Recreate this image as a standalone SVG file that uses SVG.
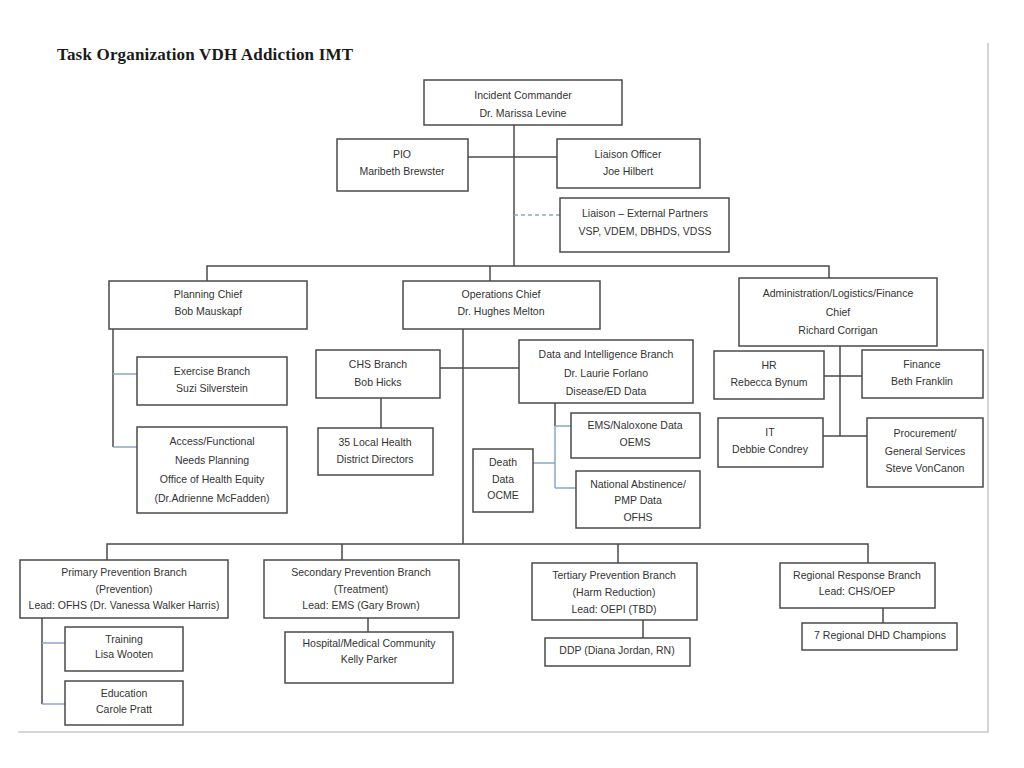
<svg xmlns="http://www.w3.org/2000/svg" width="1024" height="768" viewBox="0 0 1024 768">
<style>
.bg{fill:#ffffff}
.box{fill:#ffffff;stroke:#4a4a4a;stroke-width:1.5}
.t{font-family:"Liberation Sans",Arial,sans-serif;font-size:10.5px;fill:#333333;text-anchor:middle}
.title{font-family:"Liberation Serif","Times New Roman",serif;font-size:17px;font-weight:bold;fill:#1a1a1a}
.ln{stroke:#4a4a4a;stroke-width:1.5;fill:none}
.bl{stroke:#8aa6c8;stroke-width:1.5;fill:none}
.dash{stroke:#8aa6c8;stroke-width:1.3;fill:none;stroke-dasharray:4 3}
.frame{stroke:#c8c8c8;stroke-width:1.5;fill:none}
</style>
<rect class="bg" x="0" y="0" width="1024" height="768"/>
<text class="title" x="57" y="60" textLength="296">Task Organization VDH Addiction IMT</text>
<g id="frame"><path class="frame" d="M988,43 V732 H18"/></g>
<g id="connectors">
<path class="ln" d="M514,125 V266"/>
<path class="ln" d="M468,157 H557"/>
<path class="dash" d="M514,215 H560"/>
<path class="ln" d="M207,281 V266 H829 V278"/>
<path class="ln" d="M490,266 V281"/>
<path class="ln" d="M113,329 V447"/>
<path class="bl" d="M113,374 H137 M113,447 H137"/>
<path class="ln" d="M463,329 V544"/>
<path class="ln" d="M440,368 H519"/>
<path class="ln" d="M381,398 V428"/>
<path class="ln" d="M555,403 V426"/>
<path class="bl" d="M555,426 V488 M555,426 H571 M533,463 H555 M555,488 H576"/>
<path class="ln" d="M840,346 V436 M824,376 H862 M823,436 H867"/>
<path class="ln" d="M107,560 V544 H868 V563 M342,544 V560 M618,544 V563"/>
<path class="ln" d="M42,618 V704"/>
<path class="bl" d="M42,643 H65 M42,704 H65"/>
<path class="ln" d="M368,618 V632"/>
<path class="ln" d="M643,620 V638"/>
<path class="ln" d="M883,608 V623"/>
</g>
<g id="incident-commander"><rect class="box" x="424" y="80" width="198" height="45"/><text class="t" x="523" y="99">Incident Commander</text><text class="t" x="523" y="117">Dr. Marissa Levine</text></g>
<g id="pio"><rect class="box" x="337" y="139" width="131" height="52"/><text class="t" x="402" y="158">PIO</text><text class="t" x="402" y="175">Maribeth Brewster</text></g>
<g id="liaison-officer"><rect class="box" x="557" y="139" width="143" height="49"/><text class="t" x="628" y="158">Liaison Officer</text><text class="t" x="628" y="175">Joe Hilbert</text></g>
<g id="liaison-external"><rect class="box" x="560" y="198" width="169" height="54"/><text class="t" x="645" y="217">Liaison – External Partners</text><text class="t" x="645" y="235">VSP, VDEM, DBHDS, VDSS</text></g>
<g id="planning-chief"><rect class="box" x="109" y="281" width="198" height="48"/><text class="t" x="208" y="298">Planning Chief</text><text class="t" x="208" y="315">Bob Mauskapf</text></g>
<g id="operations-chief"><rect class="box" x="403" y="281" width="197" height="48"/><text class="t" x="501" y="298">Operations Chief</text><text class="t" x="501" y="315">Dr. Hughes Melton</text></g>
<g id="admin-chief"><rect class="box" x="739" y="278" width="198" height="68"/><text class="t" x="838" y="297">Administration/Logistics/Finance</text><text class="t" x="838" y="316">Chief</text><text class="t" x="838" y="334">Richard Corrigan</text></g>
<g id="hr"><rect class="box" x="714" y="351" width="110" height="48"/><text class="t" x="769" y="369">HR</text><text class="t" x="769" y="386">Rebecca Bynum</text></g>
<g id="finance"><rect class="box" x="862" y="350" width="121" height="48"/><text class="t" x="922" y="368">Finance</text><text class="t" x="922" y="385">Beth Franklin</text></g>
<g id="it"><rect class="box" x="718" y="418" width="105" height="49"/><text class="t" x="770" y="436">IT</text><text class="t" x="770" y="453">Debbie Condrey</text></g>
<g id="procurement"><rect class="box" x="867" y="418" width="116" height="69"/><text class="t" x="925" y="437">Procurement/</text><text class="t" x="925" y="455">General Services</text><text class="t" x="925" y="472">Steve VonCanon</text></g>
<g id="exercise-branch"><rect class="box" x="137" y="357" width="150" height="48"/><text class="t" x="212" y="375">Exercise Branch</text><text class="t" x="212" y="392">Suzi Silverstein</text></g>
<g id="access-functional"><rect class="box" x="137" y="427" width="150" height="86"/><text class="t" x="212" y="445">Access/Functional</text><text class="t" x="212" y="464">Needs Planning</text><text class="t" x="212" y="483">Office of Health Equity</text><text class="t" x="212" y="502">(Dr.Adrienne McFadden)</text></g>
<g id="chs-branch"><rect class="box" x="316" y="350" width="124" height="48"/><text class="t" x="378" y="368">CHS Branch</text><text class="t" x="378" y="386">Bob Hicks</text></g>
<g id="local-health"><rect class="box" x="318" y="428" width="115" height="47"/><text class="t" x="375" y="446">35 Local Health</text><text class="t" x="375" y="463">District Directors</text></g>
<g id="data-intel"><rect class="box" x="519" y="340" width="174" height="63"/><text class="t" x="606" y="358">Data and Intelligence Branch</text><text class="t" x="606" y="377">Dr. Laurie Forlano</text><text class="t" x="606" y="395">Disease/ED Data</text></g>
<g id="ems-naloxone"><rect class="box" x="571" y="413" width="129" height="45"/><text class="t" x="635" y="429">EMS/Naloxone Data</text><text class="t" x="635" y="446">OEMS</text></g>
<g id="death-data"><rect class="box" x="473" y="449" width="60" height="63"/><text class="t" x="503" y="466">Death</text><text class="t" x="503" y="483">Data</text><text class="t" x="503" y="499">OCME</text></g>
<g id="national-abstinence"><rect class="box" x="576" y="471" width="124" height="57"/><text class="t" x="638" y="488">National Abstinence/</text><text class="t" x="638" y="504">PMP Data</text><text class="t" x="638" y="521">OFHS</text></g>
<g id="primary-prevention"><rect class="box" x="20" y="560" width="208" height="58"/><text class="t" x="124" y="576">Primary Prevention Branch</text><text class="t" x="124" y="593">(Prevention)</text><text class="t" x="124" y="609">Lead: OFHS (Dr. Vanessa Walker Harris)</text></g>
<g id="training"><rect class="box" x="65" y="627" width="118" height="44"/><text class="t" x="124" y="643">Training</text><text class="t" x="124" y="658">Lisa Wooten</text></g>
<g id="education"><rect class="box" x="65" y="681" width="118" height="44"/><text class="t" x="124" y="697">Education</text><text class="t" x="124" y="713">Carole Pratt</text></g>
<g id="secondary-prevention"><rect class="box" x="264" y="560" width="195" height="58"/><text class="t" x="361" y="576">Secondary Prevention Branch</text><text class="t" x="361" y="593">(Treatment)</text><text class="t" x="361" y="609">Lead: EMS (Gary Brown)</text></g>
<g id="hospital-medical"><rect class="box" x="285" y="632" width="168" height="51"/><text class="t" x="369" y="647">Hospital/Medical Community</text><text class="t" x="369" y="663">Kelly Parker</text></g>
<g id="tertiary-prevention"><rect class="box" x="532" y="563" width="165" height="57"/><text class="t" x="614" y="579">Tertiary Prevention Branch</text><text class="t" x="614" y="596">(Harm Reduction)</text><text class="t" x="614" y="613">Lead: OEPI (TBD)</text></g>
<g id="ddp"><rect class="box" x="545" y="638" width="145" height="28"/><text class="t" x="617" y="654">DDP (Diana Jordan, RN)</text></g>
<g id="regional-response"><rect class="box" x="780" y="563" width="155" height="45"/><text class="t" x="857" y="579">Regional Response Branch</text><text class="t" x="857" y="595">Lead: CHS/OEP</text></g>
<g id="regional-champions"><rect class="box" x="802" y="623" width="155" height="27"/><text class="t" x="880" y="639">7 Regional DHD Champions</text></g>
</svg>
